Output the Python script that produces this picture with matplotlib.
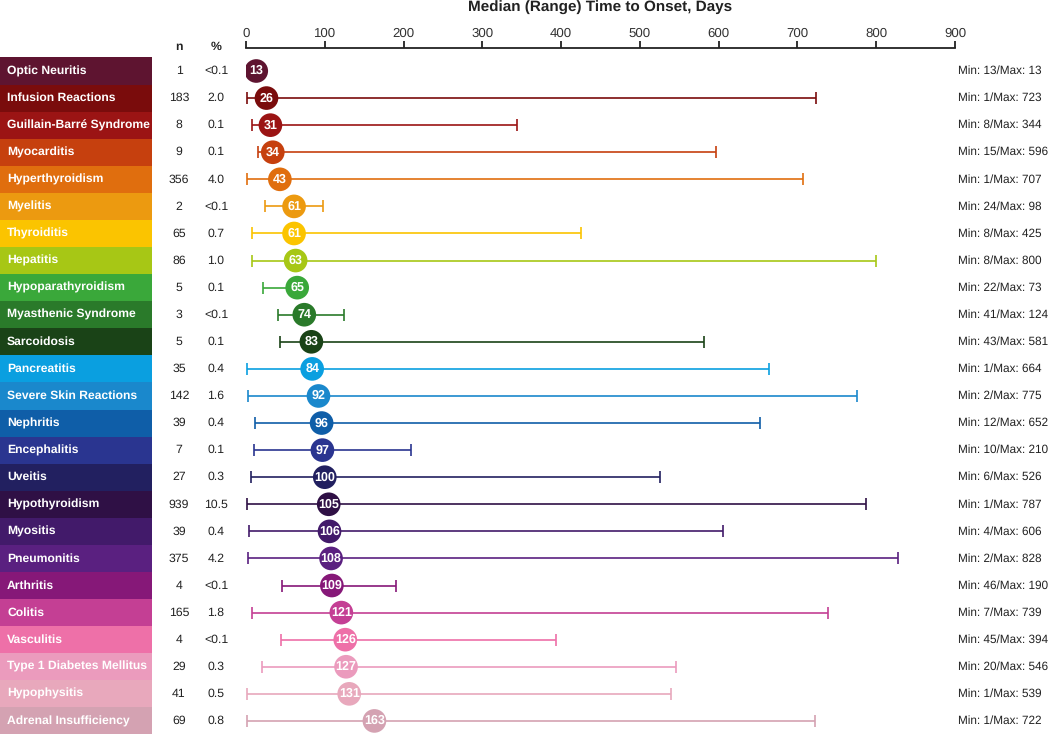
import matplotlib
matplotlib.use("Agg")
import matplotlib.pyplot as plt
import numpy as np

plt.rcParams['font.family'] = ['Liberation Sans', 'DejaVu Sans']
plt.rcParams['text.hinting'] = 'no_hinting'

# data
events = ["Optic Neuritis", "Infusion Reactions", "Guillain-Barré Syndrome", "Myocarditis",
          "Hyperthyroidism", "Myelitis", "Thyroiditis", "Hepatitis", "Hypoparathyroidism",
          "Myasthenic Syndrome", "Sarcoidosis", "Pancreatitis", "Severe Skin Reactions",
          "Nephritis", "Encephalitis", "Uveitis", "Hypothyroidism", "Myositis", "Pneumonitis",
          "Arthritis", "Colitis", "Vasculitis", "Type 1 Diabetes Mellitus", "Hypophysitis",
          "Adrenal Insufficiency"]
n_cases = ["1", "183", "8", "9", "356", "2", "65", "86", "5", "3", "5", "35", "142", "39",
           "7", "27", "939", "39", "375", "4", "165", "4", "29", "41", "69"]
pct = ["<0.1", "2.0", "0.1", "0.1", "4.0", "<0.1", "0.7", "1.0", "0.1", "<0.1", "0.1", "0.4",
       "1.6", "0.4", "0.1", "0.3", "10.5", "0.4", "4.2", "<0.1", "1.8", "<0.1", "0.3", "0.5", "0.8"]
median = [13, 26, 31, 34, 43, 61, 61, 63, 65, 74, 83, 84, 92, 96, 97, 100, 105, 106, 108,
          109, 121, 126, 127, 131, 163]
min_days = [13, 1, 8, 15, 1, 24, 8, 8, 22, 41, 43, 1, 2, 12, 10, 6, 1, 4, 2, 46, 7, 45, 20, 1, 1]
max_days = [13, 723, 344, 596, 707, 98, 425, 800, 73, 124, 581, 664, 775, 652, 210, 526, 787,
            606, 828, 190, 739, 394, 546, 539, 722]
colors = ["#5e1430", "#7a0c0c", "#9b1414", "#c6400e", "#e06e0e", "#ec9a10", "#fbc400",
          "#a7c715", "#3aa83a", "#2a7a2a", "#1a4317", "#0a9fe0", "#1a88cc", "#0f5ea8",
          "#2a3590", "#222060", "#2f1045", "#421a6a", "#5a2080", "#861878", "#c43f94",
          "#ee70a8", "#eb9bbd", "#e8a8bc", "#d4a2b2"]

W, H = 1050, 735
fig = plt.figure(figsize=(W / 100, H / 100), dpi=100)

rows = np.arange(len(events))
row_h = 27.08
top_px = 48
y_top = (top_px - 71) / row_h
y_bot = (H - 71) / row_h

# main dot plot axes
ax = fig.add_axes([246 / W, 0, (955 - 246) / W, (H - top_px) / H])
ax.set_xlim(0, 900)
ax.set_ylim(y_bot, y_top)
for s in ['left', 'right', 'bottom']:
    ax.spines[s].set_visible(False)
ax.spines['top'].set_linewidth(1.3)
ax.spines['top'].set_color('#222222')
ax.xaxis.tick_top()
ax.set_xticks(np.arange(0, 901, 100))
ax.tick_params(axis='x', direction='out', length=5, width=1.3, color='#222222',
               labelsize=9.5, labelcolor='#333333', pad=1)
ax.set_yticks([])

for i in rows:
    c = colors[i]
    lo = median[i] - min_days[i]
    hi = max_days[i] - median[i]
    if max_days[i] > min_days[i]:
        ax.errorbar(median[i], i, xerr=[[lo], [hi]], fmt='none', ecolor=c,
                    elinewidth=1.2, capsize=4.5, capthick=1.2, zorder=2)
    ax.scatter(median[i], i, s=290, color=c, zorder=3, edgecolors='none')
    ax.text(median[i], i, str(median[i]), ha='center', va='center', color='white',
            fontsize=9, fontweight='bold', zorder=4)
    ax.text(904, i, "Min: %d/Max: %d" % (min_days[i], max_days[i]), ha='left', va='center',
            fontsize=8.5, color='#222222', clip_on=False)

fig.text(600 / W, 1 - 8 / H, "Median (Range) Time to Onset, Days", ha='center', va='center',
         fontsize=11, fontweight='bold', color='#222222')

# left table axes
axl = fig.add_axes([0, 0, 246 / W, (H - top_px) / H])
axl.set_xlim(0, 246)
axl.set_ylim(y_bot, y_top)
axl.axis('off')
axl.barh(rows, 152, height=1.0, left=0, color=colors, edgecolor='none')
for i in rows:
    axl.text(7, i, events[i], ha='left', va='center', color='white', fontsize=8.7,
             fontweight='bold')
    axl.text(179, i, n_cases[i], ha='center', va='center', fontsize=8.8, color='#222222')
    axl.text(216, i, pct[i], ha='center', va='center', fontsize=8.8, color='#222222')
axl.text(179, -0.9, "n", ha='center', va='center', fontsize=8.8, fontweight='bold',
         color='#222222', clip_on=False)
axl.text(216, -0.9, "%", ha='center', va='center', fontsize=8.8, fontweight='bold',
         color='#222222', clip_on=False)

fig.savefig("out.png", dpi=100)
